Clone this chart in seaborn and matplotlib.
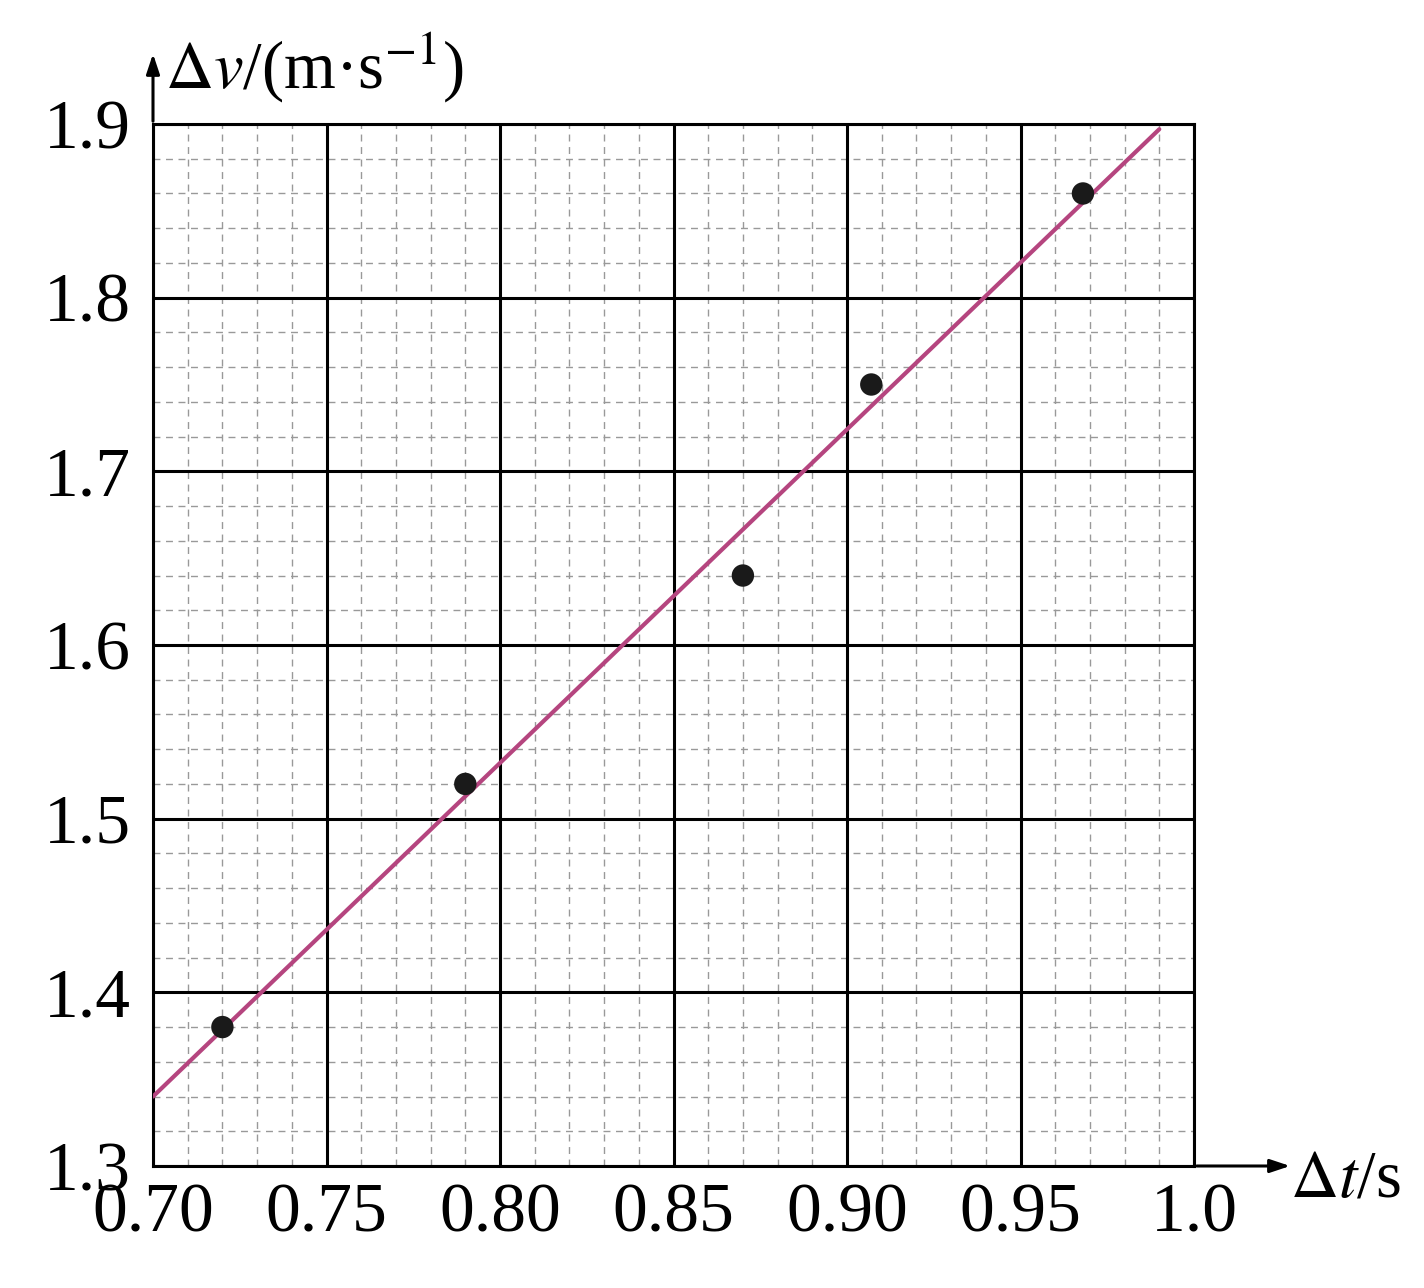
import matplotlib
matplotlib.use("Agg")
import matplotlib.pyplot as plt
import seaborn as sns
import numpy as np

sns.set_style("white")
plt.rcParams['font.family'] = ['Liberation Serif', 'DejaVu Serif']
plt.rcParams['mathtext.fontset'] = 'stix'
plt.rcParams['text.color'] = 'black'
plt.rcParams['xtick.color'] = 'black'
plt.rcParams['ytick.color'] = 'black'

dt = [0.72, 0.79, 0.87, 0.907, 0.968]
dv = [1.38, 1.52, 1.64, 1.75, 1.86]
fit_t = [0.70, 0.99]
fit_v = [1.340, 1.897]
xticks = [0.70, 0.75, 0.80, 0.85, 0.90, 0.95, 1.0]
xticklabels = ["0.70", "0.75", "0.80", "0.85", "0.90", "0.95", "1.0"]
yticks = [1.3, 1.4, 1.5, 1.6, 1.7, 1.8, 1.9]
yticklabels = ["1.3", "1.4", "1.5", "1.6", "1.7", "1.8", "1.9"]

fig = plt.figure(figsize=(14.24, 12.88), dpi=100)
ax = fig.add_axes([153/1424, 1-1166/1288, (1194-153)/1424, (1166-124)/1288])
ax.set_xlim(0.70, 1.0)
ax.set_ylim(1.3, 1.9)

for x in np.arange(0.70, 1.0001, 0.01):
    ax.axvline(x, color='#999999', lw=1.0, ls=(0, (5, 4)), zorder=1)
for y in np.arange(1.3, 1.9001, 0.02):
    ax.axhline(y, color='#999999', lw=1.0, ls=(0, (5, 4)), zorder=1)
for x in xticks:
    ax.axvline(x, color='black', lw=2.2, zorder=2)
for y in yticks:
    ax.axhline(y, color='black', lw=2.2, zorder=2)

sns.lineplot(x=fit_t, y=fit_v, ax=ax, color='#b5457f', lw=3, zorder=4)
sns.scatterplot(x=dt, y=dv, ax=ax, color='#1a1a1a', s=260, edgecolor='none', zorder=5)

for s in ax.spines.values():
    s.set_linewidth(2.2)
    s.set_color('black')
ax.set_xticks(xticks)
ax.set_xticklabels(xticklabels, fontsize=50)
ax.set_yticks(yticks)
ax.set_yticklabels(yticklabels, fontsize=50)
ax.tick_params(axis='x', length=0, pad=12)
ax.tick_params(axis='y', length=0, pad=16)
ax.set_xlabel(""); ax.set_ylabel("")

ax.annotate("", xy=(0, 1.07), xytext=(0, 1.0), xycoords='axes fraction',
            arrowprops=dict(arrowstyle='-|>,head_width=0.4,head_length=1.2', color='black', lw=2.2),
            annotation_clip=False)
ax.annotate("", xy=(1.095, 0), xytext=(1.0, 0), xycoords='axes fraction',
            arrowprops=dict(arrowstyle='-|>,head_width=0.4,head_length=1.2', color='black', lw=2.2),
            annotation_clip=False)
fig.text(165/1424, 1-68/1288, r"$\Delta v$/(m·s$^{\mathrm{-1}}$)", fontsize=48, va='center', ha='left')
fig.text(1290/1424, 1-1180/1288, r"$\Delta t$/s", fontsize=48, va='center', ha='left')

fig.savefig("out.png", dpi=100)
